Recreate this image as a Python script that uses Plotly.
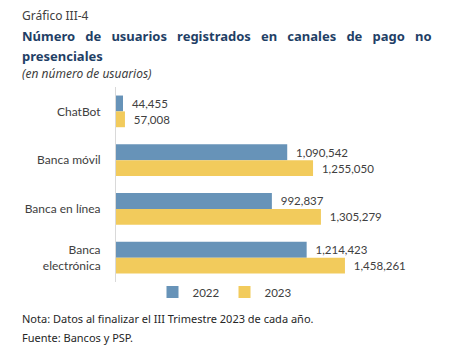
import plotly.graph_objects as go

categories = ["ChatBot", "Banca móvil", "Banca en línea", "Banca<br>electrónica"]
series_names = ["2022", "2023"]
values_2022 = [44455, 1090542, 992837, 1214423]
values_2023 = [57008, 1255050, 1305279, 1458261]
colors = ["#6793B8", "#F2CB5C"]

# page body adds an 8px margin; work in screen coordinates and subtract it
OFF = 8
W, H = 458 - OFF, 356 - OFF
L, R_EDGE, T, B_EDGE = 116 - OFF, 430 - OFF, 87 - OFF, 282 - OFF
pw, ph = R_EDGE - L, B_EDGE - T

def px(x):
    return (x - OFF - L) / pw

def py(y):
    return (B_EDGE - (y - OFF)) / ph

fig = go.Figure()
for name, vals, col in zip(series_names, [values_2022, values_2023], colors):
    fig.add_trace(go.Bar(
        y=categories, x=vals, name=name, orientation="h",
        marker=dict(color=col, line=dict(width=0)),
        text=[f"{v:,}" for v in vals],
        texttemplate="\u00a0\u00a0%{text}",
        textposition="outside",
        textfont=dict(family="Lato", size=11.5, color="#404040"),
        cliponaxis=False,
    ))

fig.update_layout(
    width=W, height=H,
    margin=dict(l=L, r=W - R_EDGE, t=T, b=H - B_EDGE, autoexpand=False),
    paper_bgcolor="white", plot_bgcolor="white",
    barmode="group", bargap=0.35, bargroupgap=0,
    font=dict(family="Lato", color="#404040"),
    xaxis=dict(range=[0, 2000000], visible=False, showgrid=False, zeroline=False),
    yaxis=dict(autorange="reversed", showline=True, linecolor="#D9D9D9", linewidth=1,
               ticks="", showgrid=False, ticklabelstandoff=12, automargin=False,
               tickfont=dict(family="Lato", size=12, color="#404040")),
    legend=dict(orientation="h", xref="paper", x=px(225), xanchor="center",
                yref="paper", y=py(292), yanchor="middle",
                font=dict(family="Lato", size=11.5, color="#404040"),
                itemwidth=30, traceorder="normal"),
    showlegend=True,
)

title_font = "Noto Sans"
sp = "\u00a0\u00a0\u00a0"
title1 = sp.join(["Número", "de", "usuarios", "registrados", "en", "canales", "de", "pago", "no"])
anns = [
    dict(text="Gráfico III-4", x=20, y=15, size=12, color="#404040", fam=title_font),
    dict(text=title1, x=20, y=36, size=13, color="#1F3F66", fam=title_font, bold=True),
    dict(text="presenciales", x=20, y=56, size=13, color="#1F3F66", fam=title_font, bold=True),
    dict(text="<i>(en número de usuarios)</i>", x=20, y=73, size=12, color="#404040", fam=title_font),
    dict(text="Nota: Datos al finalizar el III Trimestre 2023 de cada año.", x=20, y=318, size=11, color="#262626", fam=title_font),
    dict(text="Fuente: Bancos y PSP.", x=20, y=337, size=11, color="#262626", fam=title_font),
]
for a in anns:
    txt = f"<b>{a['text']}</b>" if a.get("bold") else a["text"]
    fig.add_annotation(text=txt, xref="paper", yref="paper", x=px(a["x"]), y=py(a["y"]),
                       xanchor="left", yanchor="middle", showarrow=False,
                       font=dict(family=a["fam"], size=a["size"], color=a["color"]))

fig.write_html("out.html")
